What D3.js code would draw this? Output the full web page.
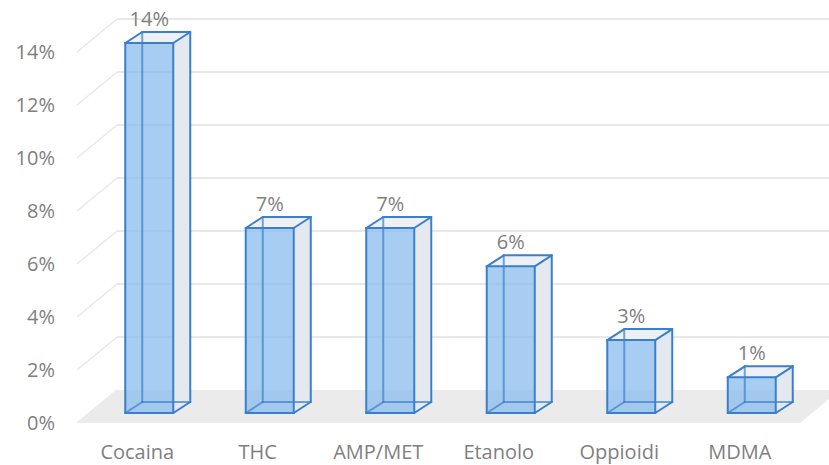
<!DOCTYPE html>
<html><head><meta charset="utf-8">
<script src="https://cdn.jsdelivr.net/npm/d3@7"></script>
<style>html,body{margin:0;padding:0;background:#fff;}svg{display:block;}</style>
</head><body>
<svg id="c" width="829" height="465"></svg>
<script>
const categories = ["Cocaina","THC","AMP/MET","Etanolo","Oppioidi","MDMA"];
const values = [14, 7, 7, 5.55, 2.76, 1.35];
const tickValues = [0,2,4,6,8,10,12,14];

const W = 829, H = 465;
const svg = d3.select("#c");
const font = "'Open Sans', sans-serif";
const textColor = "#7f7f7f";
const stroke = "#3b7fcb";

// geometry
const floorLeft = 77, floorRight = 800;
const depth = [40, -33];           // floor depth vector
const barOff = [12, -10];          // bar front offset from floor front
const barDepth = [17, -11];        // bar depth vector

const x = d3.scaleBand().domain(categories).range([floorLeft, floorRight]).paddingInner(0).paddingOuter(0);
const yF = d3.scaleLinear().domain([0, 14]).range([423, 52]);  // front plane
const yB = d3.scaleLinear().domain([0, 14]).range([413, 43]);  // bar front plane
const barW = 48;

// gridlines: left wall diagonals + back wall horizontals
const g = svg.append("g");
tickValues.forEach(v => {
  const y0 = yF(v);
  g.append("line").attr("x1", floorLeft).attr("y1", y0)
    .attr("x2", floorLeft + depth[0]).attr("y2", y0 + depth[1])
    .attr("stroke", "#e8e8e8").attr("stroke-width", 1.5);
  if (v > 0) g.append("line").attr("x1", floorLeft + depth[0]).attr("y1", y0 + depth[1])
    .attr("x2", W + 20).attr("y2", y0 + depth[1])
    .attr("stroke", "#e8e8e8").attr("stroke-width", 2);
});

// floor
const fy = yF(0);
g.append("polygon")
  .attr("points", [[floorLeft, fy], [floorRight, fy], [floorRight + depth[0], fy + depth[1]], [floorLeft + depth[0], fy + depth[1]]].map(p => p.join(",")).join(" "))
  .attr("fill", "#ebebeb");

// tick labels
svg.append("g").selectAll("text").data(tickValues).join("text")
  .attr("x", 55).attr("y", d => yF(d)).attr("dy", "0.36em")
  .attr("text-anchor", "end").attr("font-family", font).attr("font-size", 20)
  .attr("fill", textColor).text(d => d + "%");

// category labels
svg.append("g").selectAll("text").data(categories).join("text")
  .attr("x", d => x(d) + x.bandwidth() / 2).attr("y", 459)
  .attr("text-anchor", "middle").attr("font-family", font).attr("font-size", 20)
  .attr("fill", textColor).text(d => d);

// bars
const bars = svg.append("g");
const pts = a => a.map(p => p.join(",")).join(" ");
categories.forEach((c, i) => {
  const v = values[i];
  const cx = x(c) + x.bandwidth() / 2 + barOff[0];
  const xl = cx - barW / 2, xr = cx + barW / 2;
  const yb = yB(0), yt = yB(v);
  const dx = barDepth[0], dy = barDepth[1];
  const FL_B = [xl, yb], FR_B = [xr, yb], FL_T = [xl, yt], FR_T = [xr, yt];
  const BL_B = [xl + dx, yb + dy], BR_B = [xr + dx, yb + dy], BL_T = [xl + dx, yt + dy], BR_T = [xr + dx, yt + dy];
  const bg = bars.append("g");
  const line = (a, b, op) => bg.append("line").attr("x1", a[0]).attr("y1", a[1]).attr("x2", b[0]).attr("y2", b[1])
    .attr("stroke", stroke).attr("stroke-width", 2).attr("stroke-linecap", "round")
    .attr("stroke-opacity", op || 1);
  // side and top faces
  bg.append("polygon").attr("points", pts([FR_B, BR_B, BR_T, FR_T])).attr("fill", "#e3e9ef");
  bg.append("polygon").attr("points", pts([FL_T, FR_T, BR_T, BL_T])).attr("fill", "#edf1f6");
  // front face
  bg.append("polygon").attr("points", pts([FL_B, FR_B, FR_T, FL_T])).attr("fill", "#8bbcee").attr("fill-opacity", 0.75);
  // hidden edges seen through the translucent front
  line(BL_T, BL_B, 0.7); line(BL_B, BR_B, 0.7); line(FL_B, BL_B, 0.7);
  // visible edges
  line(FL_B, FR_B); line(FR_B, FR_T); line(FR_T, FL_T); line(FL_T, FL_B);
  line(FL_T, BL_T); line(BL_T, BR_T); line(BR_T, FR_T); line(BR_T, BR_B); line(BR_B, FR_B);
  // data label
  bg.append("text").attr("x", cx).attr("y", BL_T[1] - 6)
    .attr("text-anchor", "middle").attr("font-family", font).attr("font-size", 20)
    .attr("fill", textColor).text(Math.round(v) + "%");
});
</script>
</body></html>
